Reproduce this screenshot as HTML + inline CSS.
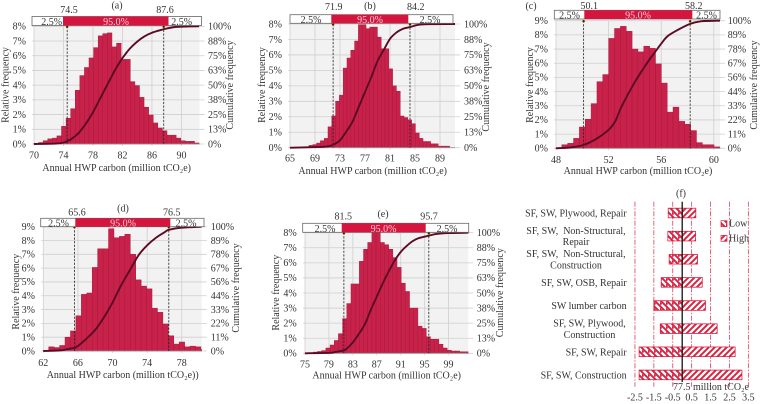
<!DOCTYPE html>
<html lang="en">
<head>
<meta charset="utf-8">
<title>HWP carbon distributions</title>
<style>
html,body{margin:0;padding:0;background:#fff;}
svg{display:block;font-family:"Liberation Serif",serif;font-size:10px;fill:#333;filter:blur(.3px);}
.axt{font-size:10px;text-anchor:middle;}
.ctr{text-anchor:middle;}
.pink{fill:#f7c9d3;}
.cat{font-size:10px;white-space:pre;}
</style>
</head>
<body>
<svg id="fig" xmlns="http://www.w3.org/2000/svg" width="763" height="404" viewBox="0 0 763 404">
<defs>
<pattern id="hatchLow" patternUnits="userSpaceOnUse" width="6" height="6"><rect width="6" height="6" fill="#fff"/><path d="M-1.5,1.5 L1.5,4.5 M0,0 L6,6 M4.5,-1.5 L7.5,1.5 M-1.5,4.5 L1.5,7.5" stroke="#d8203f" stroke-width="1.9"/></pattern>
<pattern id="hatchHigh" patternUnits="userSpaceOnUse" width="6" height="6"><rect width="6" height="6" fill="#fff"/><path d="M0,6 L6,0 M-1.5,1.5 L1.5,-1.5 M4.5,7.5 L7.5,4.5" stroke="#d8203f" stroke-width="1.9"/></pattern>
</defs>
<g id="charts"></g>

<g>
<text class="ctr" x="117" y="8.5">(a)</text>
<rect x="32" y="16.5" width="169.5" height="9" fill="#fff" stroke="#666" stroke-width=".8"/>
<rect x="63" y="16.5" width="105.5" height="9" fill="#d6153f"/>
<text class="ctr" x="51.7" y="25">2.5%</text>
<text class="ctr pink" x="116" y="25">95.0%</text>
<text class="ctr" x="181.7" y="25">2.5%</text>
<text class="axt" x="116.7" y="171">Annual HWP carbon (million tCO₂e)</text>
<text class="axt" transform="translate(8.5 85) rotate(-90)">Relative frequency</text>
<text class="axt" transform="translate(233 85) rotate(-90)">Cumulative frequency</text>
</g>

<g>
<text class="ctr" x="370" y="9">(b)</text>
<rect x="290" y="14.7" width="163" height="8.6" fill="#fff" stroke="#666" stroke-width=".8"/>
<rect x="331.3" y="14.7" width="77" height="8.6" fill="#d6153f"/>
<text class="ctr" x="311" y="23">2.5%</text>
<text class="ctr pink" x="370" y="23">95.0%</text>
<text class="ctr" x="430" y="23">2.5%</text>
<text class="axt" x="372.7" y="174">Annual HWP carbon (million tCO₂e)</text>
<text class="axt" transform="translate(265 85) rotate(-90)">Relative frequency</text>
<text class="axt" transform="translate(489 87) rotate(-90)">Cumulative frequency</text>
</g>

<g>
<text class="ctr" x="531" y="9">(c)</text>
<rect x="554.3" y="10.3" width="165.7" height="8.7" fill="#fff" stroke="#666" stroke-width=".8"/>
<rect x="584.3" y="10.3" width="108" height="8.7" fill="#d6153f"/>
<text class="ctr" x="569.5" y="18.7">2.5%</text>
<text class="ctr pink" x="638" y="18.7">95.0%</text>
<text class="ctr" x="706.5" y="18.7">2.5%</text>
<text class="axt" x="638" y="174">Annual HWP carbon (million tCO₂e)</text>
<text class="axt" transform="translate(533 85) rotate(-90)">Relative frequency</text>
<text class="axt" transform="translate(757 85) rotate(-90)">Cumulative frequency</text>
</g>

<g>
<text class="ctr" x="123" y="211.5">(d)</text>
<rect x="40.7" y="218.3" width="163.3" height="8.4" fill="#fff" stroke="#666" stroke-width=".8"/>
<rect x="75.3" y="218.3" width="95" height="8.4" fill="#d6153f"/>
<text class="ctr" x="58.5" y="226.5">2.5%</text>
<text class="ctr pink" x="123" y="226.5">95.0%</text>
<text class="ctr" x="186" y="226.5">2.5%</text>
<text class="axt" x="122.7" y="378">Annual HWP carbon (million tCO₂e))</text>
<text class="axt" transform="translate(19 291.7) rotate(-90)">Relative frequency</text>
<text class="axt" transform="translate(239 288) rotate(-90)">Cumulative frequency</text>
</g>

<g>
<text class="ctr" x="383" y="217">(e)</text>
<rect x="302.7" y="223.3" width="166" height="9" fill="#fff" stroke="#666" stroke-width=".8"/>
<rect x="341.7" y="223.3" width="84" height="9" fill="#d6153f"/>
<text class="ctr" x="325" y="232">2.5%</text>
<text class="ctr pink" x="383.5" y="232">95.0%</text>
<text class="ctr" x="447" y="232">2.5%</text>
<text class="axt" x="386.7" y="378.3">Annual HWP carbon (million tCO₂e)</text>
<text class="axt" transform="translate(279 292.7) rotate(-90)">Relative frequency</text>
<text class="axt" transform="translate(503 292.7) rotate(-90)">Cumulative frequency</text>
</g>

<g>
<text class="ctr" x="681" y="196.5">(f)</text>
<rect x="721" y="220.7" width="6" height="6" fill="url(#hatchLow)" stroke="#d8203f" stroke-width=".7"/>
<text x="729" y="226.5">Low</text>
<rect x="721" y="235.3" width="6" height="6" fill="url(#hatchHigh)" stroke="#d8203f" stroke-width=".7"/>
<text x="729" y="241.5">High</text>
<text class="ctr" x="711" y="390">77.5 million tCO₂e</text>
</g>

<script>
/* Panel (a) */
const aBars = [0.05,0.1,0.22,0.35,0.4,0.55,1.2,1.75,2.4,3.65,4.65,5.2,5.85,6.55,7.35,7.5,7.55,6.6,6.85,5.75,5.75,4.24,3.97,3.17,2.5,1.97,1.43,1.09,0.9,0.6,0.6,0.4,0.22,0.18,0.18,0.07];
const aCumX = [70,73,74,74.5,75,76,77,78,79,80,81,82,83,84,85,86,87,87.6,89,91,92.4];
const aCumY = [0,0.4,1.2,2.5,4,9,17,27,39,51,63,73,81,87,91.5,94.5,96.5,97.5,99.3,99.9,100];
const aXTicks = [70,74,78,82,86,90];
const aLeftTicks = ["0%","1%","2%","3%","4%","5%","6%","7%","8%"];
const aRightTicks = ["0%","13%","25%","38%","50%","63%","75%","88%","100%"];
const aQuantiles = [74.5,87.6];

/* Panel (b) */
const bBars = [0.01,0.01,0.02,0.03,0.05,0.15,0.2,0.3,0.45,0.6,1.35,2.05,3,3.4,5.15,5.8,6.3,6.9,7.95,7.95,7.7,7.8,7.8,7.15,6.4,6.4,5.1,4,3.65,2.05,1.95,1.8,1.55,0.95,0.6,0.4,0.4,0.25,0.25,0.1,0.1,0.1];
const bCumX = [65,70.5,71.9,73,74,75,76,77,78,79,80,81,82,83,84.2,85.5,87,91.4];
const bCumY = [0,0.8,2.5,6,13,21,33,45,57,70,79,88,93,96,97.5,99.3,99.9,100];
const bXTicks = [65,69,73,77,81,85,89];
const bLeftTicks = ["0%","1%","2%","3%","4%","5%","6%","7%","8%"];
const bRightTicks = ["0%","13%","25%","38%","50%","63%","75%","88%","100%"];
const bQuantiles = [71.9,84.2];

/* Panel (c) */
const cBars = [0.05,0.25,0.35,0.7,1.5,2.05,3.15,4.7,5.2,7.75,8.45,8.6,8.25,7,6.8,7.2,7.05,5.95,4.6,2.55,2.9,1.9,1.7,1.25,0.4,0.25,0.25,0.1];
const cCumX = [48,49,50,51,52,52.5,53,54,55,55.5,56,56.5,57.3,58.2,59,60,60.47];
const cCumY = [0,0.6,2.3,7,14.5,21,33,52,68,75,82,88,93,97.5,99.5,99.9,100];
const cXTicks = [48,52,56,60];
const cLeftTicks = ["0%","1%","2%","3%","4%","5%","6%","7%","8%","9%"];
const cRightTicks = ["0%","11%","22%","33%","44%","56%","67%","78%","89%","100%"];
const cQuantiles = [50.1,58.2];

/* Panel (d) */
const dBars = [0.02,0.3,0.25,0.4,1,1.45,2.55,4.1,4.2,6.05,7.4,7.4,8.85,8.2,8.3,8.45,7,5.15,4.7,4.5,3.1,2.8,1.95,1.1,0.5,0.65,0.3,0.35,0.3,0.1];
const dCumX = [62,64,65,65.6,66,67,68,69,70,71,72,73,74,75,76,76.5,78,80.3];
const dCumY = [0,0.5,1.8,2.5,4,10,17,27,39,53,65,77,85,91,95.5,97.5,99.2,100];
const dXTicks = [62,66,70,74,78];
const dLeftTicks = ["0%","1%","2%","3%","4%","5%","6%","7%","8%","9%"];
const dRightTicks = ["0%","11%","22%","33%","44%","56%","67%","78%","89%","100%"];
const dQuantiles = [65.6,76.5];

/* Panel (e) */
const eBars = [0.02,0.03,0.08,0.12,0.18,0.35,0.55,0.85,1.3,2.3,3.3,4.6,4.6,6.1,6.9,7.35,8,8,7.35,7.2,6.9,6.35,5.7,4.65,4.1,3,3,1.8,1.65,1.1,0.93,0.93,0.6,0.35,0.2,0.15,0.15,0.1,0.1];
const eCumX = [75,79,80,81.5,82,83,84,85,86,87,88,89,90,91,92,93,94,95.7,97,99,102.3];
const eCumY = [0,0.4,1,2.5,4,9,16,24,36,47,58,68,77,84,89,93,95.5,97.5,99,99.7,100];
const eXTicks = [75,79,83,87,91,95,99];
const eLeftTicks = ["0%","1%","2%","3%","4%","5%","6%","7%","8%"];
const eRightTicks = ["0%","13%","25%","38%","50%","63%","75%","88%","100%"];
const eQuantiles = [81.5,95.7];

/* Panel (f) tornado */
const fCategories = [["SF, SW, Plywood, Repair"],["SF, SW,  Non-Structural,","Repair"],["SF, SW,  Non-Structural,","Construction"],["SF, SW, OSB, Repair"],["SW lumber carbon"],["SF, SW, Plywood,","Construction"],["SF, SW, Repair"],["SF, SW, Construction"]];
const fLow = [-0.74,-0.76,-0.69,-1.11,-1.5,-1.16,-2.28,-2.28];
const fHigh = [0.72,0.71,0.81,1.06,1.23,1.85,2.8,3.16];
const fTicks = [-2.5,-1.5,-0.5,0.5,1.5,2.5,3.5];

const NS = "http://www.w3.org/2000/svg";
const root = document.getElementById("charts");

function make(tag, attrs, parent, text) {
  const el = document.createElementNS(NS, tag);
  for (const k in attrs) el.setAttribute(k, attrs[k]);
  if (text !== undefined) el.textContent = text;
  parent.appendChild(el);
  return el;
}

function smoothPath(xs, ys) {
  let d = "M" + xs[0].toFixed(2) + "," + ys[0].toFixed(2);
  for (let i = 0; i < xs.length - 1; i++) {
    const x0 = xs[Math.max(i - 1, 0)], y0 = ys[Math.max(i - 1, 0)];
    const x3 = xs[Math.min(i + 2, xs.length - 1)], y3 = ys[Math.min(i + 2, xs.length - 1)];
    const c1x = xs[i] + (xs[i + 1] - x0) / 6, c1y = ys[i] + (ys[i + 1] - y0) / 6;
    const c2x = xs[i + 1] - (x3 - xs[i]) / 6, c2y = ys[i + 1] - (y3 - ys[i]) / 6;
    d += "C" + c1x.toFixed(2) + "," + c1y.toFixed(2) + " " + c2x.toFixed(2) + "," + c2y.toFixed(2) + " " + xs[i + 1].toFixed(2) + "," + ys[i + 1].toFixed(2);
  }
  return d;
}

function drawPanel(p) {
  const g = make("g", {}, root);
  
  
  const sx = v => p.l + (v - p.xMin) * (p.r - p.l) / (p.xMax - p.xMin);
  const leftMax = p.leftTicks.length - 1;
  const sy = v => p.b - v * (p.b - p.t) / leftMax;
  const syPct = v => p.b - v * (p.b - p.t) / 100;

  const bg = make("rect", {x: p.l, y: p.t, width: p.r - p.l, height: p.b - p.t, fill: "#f2f2f2"}, g);
  
  

  p.leftTicks.forEach((label, i) => {
    const y = sy(i);
    const grid = make("line", {x1: p.l - 2, x2: p.r + 5, y1: y, y2: y, stroke: "#cfcfcf", "stroke-width": 0.8}, g);
    
    
    const lt = make("text", {x: p.leftEnd, y: y + 3.3, "text-anchor": "end"}, g, label);
    
    
    const rt = make("text", {x: p.rightStart, y: y + 3.3}, g, p.rightTicks[i]);
    
    
  });

  p.xTicks.forEach(v => {
    const x = sx(v);
    const grid = make("line", {x1: x, x2: x, y1: p.t, y2: p.b + 2, stroke: "#cfcfcf", "stroke-width": 0.8}, g);
    
    
    const t = make("text", {x: x, y: p.xTickY, "text-anchor": "middle"}, g, String(v));
    
    
  });

  p.bars.forEach((v, i) => {
    const x0 = p.xMin + i * p.bin;
    const x1 = Math.min(x0 + p.bin, p.xMax);
    if (x1 <= x0) return;
    const bar = make("rect", {x: sx(x0), y: sy(v), width: sx(x1) - sx(x0), height: p.b - sy(v), fill: "#c8224a", stroke: "#a81a3f", "stroke-width": 0.5}, g);
    
    
  });

  const axis = make("line", {x1: p.l, x2: p.r, y1: p.b, y2: p.b, stroke: "#999", "stroke-width": 0.8}, g);
  
  

  p.quantiles.forEach(q => {
    const x = sx(q);
    const dash = make("line", {x1: x, x2: x, y1: p.t, y2: p.b, stroke: "#222", "stroke-width": 0.8, "stroke-dasharray": "2.2 1.4"}, g);
    
    
    const dot = make("circle", {cx: x, cy: p.t + 0.5, r: 1.3, fill: "#2a2200", stroke: "#e8c030", "stroke-width": 0.4}, g);
    
    
  });

  const curve = make("path", {d: smoothPath(p.cumX.map(sx), p.cumY.map(syPct)), fill: "none", stroke: "#5c0a24", "stroke-width": 1.9}, g);
  
  

  p.quantiles.forEach((q, i) => {
    const t = make("text", {x: p.qLabelX[i], y: p.qLabelY, "text-anchor": "middle"}, g, q.toFixed(1));
    
    
  });
}

drawPanel({id: "a", l: 34, r: 199.5, t: 26.3, b: 144, xMin: 70, xMax: 92.45, bin: 0.622, bars: aBars, cumX: aCumX, cumY: aCumY, xTicks: aXTicks, leftTicks: aLeftTicks, rightTicks: aRightTicks, quantiles: aQuantiles, qLabelX: [69, 165], qLabelY: 13, leftEnd: 26, rightStart: 208, xTickY: 158.5});
drawPanel({id: "b", l: 290, r: 455, t: 24, b: 147.7, xMin: 65, xMax: 91.4, bin: 0.608, bars: bBars, cumX: bCumX, cumY: bCumY, xTicks: bXTicks, leftTicks: bLeftTicks, rightTicks: bRightTicks, quantiles: bQuantiles, qLabelX: [333.7, 415.7], qLabelY: 10, leftEnd: 282, rightStart: 464, xTickY: 161.5});
drawPanel({id: "c", l: 556, r: 720, t: 20.7, b: 148.3, xMin: 48, xMax: 60.47, bin: 0.445, bars: cBars, cumX: cCumX, cumY: cCumY, xTicks: cXTicks, leftTicks: cLeftTicks, rightTicks: cRightTicks, quantiles: cQuantiles, qLabelX: [589.3, 693.7], qLabelY: 9, leftEnd: 548, rightStart: 727.7, xTickY: 163});
drawPanel({id: "d", l: 43.3, r: 201.7, t: 226.7, b: 351, xMin: 62, xMax: 80.3, bin: 0.628, bars: dBars, cumX: dCumX, cumY: dCumY, xTicks: dXTicks, leftTicks: dLeftTicks, rightTicks: dRightTicks, quantiles: dQuantiles, qLabelX: [77, 171.7], qLabelY: 215.5, leftEnd: 35, rightStart: 210.7, xTickY: 366});
drawPanel({id: "e", l: 305, r: 468.3, t: 232.7, b: 353.3, xMin: 75, xMax: 102.3, bin: 0.699, bars: eBars, cumX: eCumX, cumY: eCumY, xTicks: eXTicks, leftTicks: eLeftTicks, rightTicks: eRightTicks, quantiles: eQuantiles, qLabelX: [343.3, 429], qLabelY: 219.5, leftEnd: 296.7, rightStart: 476.7, xTickY: 367.7});

/* Tornado chart */
const fG = make("g", {}, root);


const fx = v => 682.2 + v * 18.9;
const fy = i => 213 + i * 23.13;

fTicks.forEach(v => {
  const line = make("line", {x1: fx(v), x2: fx(v), y1: 201.7, y2: 386.7, stroke: "#d8405a", "stroke-width": 0.8, "stroke-dasharray": "5 1.5 1.5 1.5"}, fG);
  
  
  const t = make("text", {x: fx(v), y: 400.7, "text-anchor": "middle"}, fG, v.toFixed(1));
  
  
});

fCategories.forEach((lines, i) => {
  const label = make("text", {class: "cat", y: fy(i) + (lines.length > 1 ? -2.2 : 3.6), "text-anchor": "middle"}, fG);
  
  
  if (lines.length === 1) {
    label.setAttribute("text-anchor", "end");
    label.setAttribute("x", 626.7);
    label.textContent = lines[0];
  } else {
    const labelCenter = lines[0].length > 20 ? 576 : 589.5;
    lines.forEach((line, j) => {
      make("tspan", {x: labelCenter, dy: j === 0 ? 0 : 11.3}, label, line);
    });
  }
  const low = make("rect", {x: fx(fLow[i]), y: fy(i) - 4.8, width: fx(0) - fx(fLow[i]), height: 9.6, fill: "url(#hatchLow)", stroke: "#d8203f", "stroke-width": 0.8}, fG);
  
  
  const high = make("rect", {x: fx(0), y: fy(i) - 4.8, width: fx(fHigh[i]) - fx(0), height: 9.6, fill: "url(#hatchHigh)", stroke: "#d8203f", "stroke-width": 0.8}, fG);
  
  
});

const zero = make("line", {x1: fx(0), x2: fx(0), y1: 201.7, y2: 382, stroke: "#111", "stroke-width": 1.3}, fG);


</script>
</svg>
</body>
</html>
